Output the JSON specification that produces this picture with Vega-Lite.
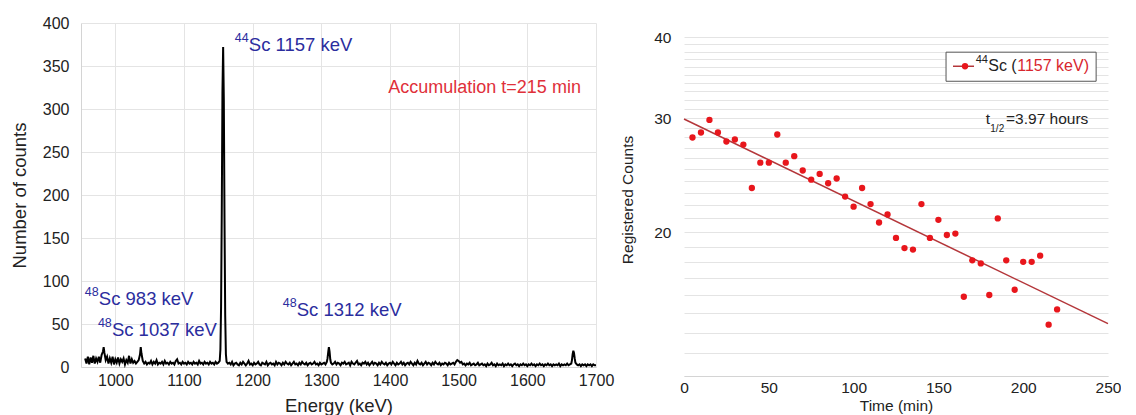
{
"$schema": "https://vega.github.io/schema/vega-lite/v6.json",
"background": "white",
"padding": {"left": 10, "top": 15, "right": 0, "bottom": 0},
"bounds": "flush",
"spacing": 88,
"config": {
  "view": {"stroke": null},
  "font": "Liberation Sans",
  "axis": {"labelFont": "Liberation Sans", "titleFont": "Liberation Sans", "titleFontWeight": "normal", "labelColor": "#222222", "titleColor": "#222222", "gridColor": "#e4e4e4", "domainColor": "#d4d4d4", "tickSize": 0, "ticks": false, "labelOverlap": false, "labelFlush": false}
},
"datasets": {
  "spectrum": [
    {"e":956,"c":10},{"e":958,"c":4},{"e":960,"c":12},{"e":962,"c":3},{"e":964,"c":11},{"e":966,"c":5},{"e":968,"c":13},{"e":970,"c":4},{"e":972,"c":10},{"e":974,"c":6},{"e":976,"c":12},{"e":978,"c":5},{"e":980,"c":14},{"e":982,"c":18},{"e":983,"c":23},{"e":984,"c":17},{"e":986,"c":8},{"e":988,"c":12},{"e":990,"c":4},{"e":992,"c":10},{"e":994,"c":5},{"e":996,"c":12},{"e":998,"c":3},{"e":1000,"c":9},{"e":1002,"c":5},{"e":1004,"c":11},{"e":1006,"c":4},{"e":1008,"c":9},{"e":1010,"c":6},{"e":1012,"c":10},{"e":1014,"c":3},{"e":1016,"c":8},{"e":1018,"c":5},{"e":1020,"c":13},{"e":1022,"c":4},{"e":1024,"c":9},{"e":1026,"c":5},{"e":1028,"c":7},{"e":1030,"c":4},{"e":1032,"c":6},{"e":1034,"c":8},{"e":1036,"c":15},{"e":1037,"c":23},{"e":1038,"c":16},{"e":1040,"c":7},{"e":1042,"c":4},{"e":1044,"c":6},{"e":1046,"c":3},{"e":1048,"c":5},{"e":1050,"c":4},{"e":1052,"c":7},{"e":1054,"c":3},{"e":1056,"c":6},{"e":1058,"c":4},{"e":1060,"c":8},{"e":1062,"c":3},{"e":1064,"c":5},{"e":1066,"c":4},{"e":1068,"c":6},{"e":1070,"c":3},{"e":1072,"c":7},{"e":1074,"c":4},{"e":1076,"c":5},{"e":1078,"c":3},{"e":1080,"c":6},{"e":1082,"c":4},{"e":1084,"c":5},{"e":1086,"c":3},{"e":1088,"c":7},{"e":1090,"c":9},{"e":1092,"c":4},{"e":1094,"c":5},{"e":1096,"c":3},{"e":1098,"c":6},{"e":1100,"c":4},{"e":1102,"c":5},{"e":1104,"c":3},{"e":1106,"c":6},{"e":1108,"c":4},{"e":1110,"c":5},{"e":1112,"c":3},{"e":1114,"c":6},{"e":1116,"c":4},{"e":1118,"c":5},{"e":1120,"c":3},{"e":1122,"c":7},{"e":1124,"c":4},{"e":1126,"c":5},{"e":1128,"c":3},{"e":1130,"c":6},{"e":1132,"c":4},{"e":1134,"c":5},{"e":1136,"c":3},{"e":1138,"c":6},{"e":1140,"c":4},{"e":1142,"c":5},{"e":1144,"c":3},{"e":1146,"c":6},{"e":1148,"c":4},{"e":1150,"c":5},{"e":1152,"c":7},{"e":1153,"c":20},{"e":1154,"c":70},{"e":1155,"c":180},{"e":1156,"c":320},{"e":1157,"c":372},{"e":1158,"c":310},{"e":1159,"c":170},{"e":1160,"c":60},{"e":1161,"c":15},{"e":1162,"c":6},{"e":1164,"c":4},
    {"e":1166,"c":5},{"e":1168,"c":3},{"e":1170,"c":6},{"e":1172,"c":2},{"e":1174,"c":4},{"e":1176,"c":5},{"e":1178,"c":3},{"e":1180,"c":2},{"e":1182,"c":5},{"e":1184,"c":3},{"e":1186,"c":6},{"e":1188,"c":4},{"e":1190,"c":2},{"e":1192,"c":4},{"e":1194,"c":7},{"e":1196,"c":3},{"e":1198,"c":4},{"e":1200,"c":2},{"e":1202,"c":5},{"e":1204,"c":3},{"e":1206,"c":4},{"e":1208,"c":6},{"e":1210,"c":3},{"e":1212,"c":2},{"e":1214,"c":5},{"e":1216,"c":4},{"e":1218,"c":3},{"e":1220,"c":6},{"e":1222,"c":2},{"e":1224,"c":4},{"e":1226,"c":5},{"e":1228,"c":3},{"e":1230,"c":4},{"e":1232,"c":2},{"e":1234,"c":6},{"e":1236,"c":3},{"e":1238,"c":5},{"e":1240,"c":4},{"e":1242,"c":2},{"e":1244,"c":5},{"e":1246,"c":3},{"e":1248,"c":6},{"e":1250,"c":4},{"e":1252,"c":3},{"e":1254,"c":5},{"e":1256,"c":2},{"e":1258,"c":4},{"e":1260,"c":6},{"e":1262,"c":3},{"e":1264,"c":4},{"e":1266,"c":2},{"e":1268,"c":5},{"e":1270,"c":3},{"e":1272,"c":6},{"e":1274,"c":4},{"e":1276,"c":3},{"e":1278,"c":5},{"e":1280,"c":2},{"e":1282,"c":4},{"e":1284,"c":5},{"e":1286,"c":3},{"e":1288,"c":4},{"e":1290,"c":6},{"e":1292,"c":3},{"e":1294,"c":4},{"e":1296,"c":2},{"e":1298,"c":5},{"e":1300,"c":3},{"e":1302,"c":4},{"e":1304,"c":5},{"e":1306,"c":3},{"e":1308,"c":6},{"e":1309,"c":10},{"e":1310,"c":17},{"e":1311,"c":23},{"e":1312,"c":18},{"e":1313,"c":9},{"e":1314,"c":5},{"e":1316,"c":3},
    {"e":1318,"c":4},{"e":1320,"c":6},{"e":1322,"c":3},{"e":1324,"c":5},{"e":1326,"c":4},{"e":1328,"c":2},{"e":1330,"c":5},{"e":1332,"c":4},{"e":1334,"c":6},{"e":1336,"c":3},{"e":1338,"c":4},{"e":1340,"c":5},{"e":1342,"c":2},{"e":1344,"c":6},{"e":1346,"c":4},{"e":1348,"c":3},{"e":1350,"c":5},{"e":1352,"c":7},{"e":1354,"c":3},{"e":1356,"c":4},{"e":1358,"c":2},{"e":1360,"c":5},{"e":1362,"c":4},{"e":1364,"c":6},{"e":1366,"c":3},{"e":1368,"c":5},{"e":1370,"c":2},{"e":1372,"c":4},{"e":1374,"c":6},{"e":1376,"c":3},{"e":1378,"c":5},{"e":1380,"c":4},{"e":1382,"c":2},{"e":1384,"c":5},{"e":1386,"c":3},{"e":1388,"c":6},{"e":1390,"c":4},{"e":1392,"c":3},{"e":1394,"c":5},{"e":1396,"c":2},{"e":1398,"c":4},{"e":1400,"c":5},{"e":1402,"c":3},{"e":1404,"c":6},{"e":1406,"c":4},{"e":1408,"c":2},{"e":1410,"c":5},{"e":1412,"c":3},{"e":1414,"c":4},{"e":1416,"c":6},{"e":1418,"c":3},{"e":1420,"c":5},{"e":1422,"c":2},{"e":1424,"c":4},{"e":1426,"c":5},{"e":1428,"c":3},{"e":1430,"c":6},{"e":1432,"c":4},{"e":1434,"c":2},{"e":1436,"c":5},{"e":1438,"c":3},{"e":1440,"c":7},{"e":1442,"c":4},{"e":1444,"c":3},{"e":1446,"c":5},{"e":1448,"c":2},{"e":1450,"c":4},{"e":1452,"c":6},{"e":1454,"c":3},{"e":1456,"c":5},{"e":1458,"c":4},{"e":1460,"c":2},{"e":1462,"c":5},{"e":1464,"c":3},{"e":1466,"c":6},{"e":1468,"c":4},{"e":1470,"c":3},{"e":1472,"c":5},{"e":1474,"c":2},{"e":1476,"c":4},{"e":1478,"c":3},{"e":1480,"c":5},{"e":1482,"c":4},{"e":1484,"c":2},{"e":1486,"c":5},{"e":1488,"c":3},{"e":1490,"c":4},{"e":1492,"c":5},{"e":1494,"c":3},{"e":1496,"c":6},{"e":1498,"c":8},{"e":1500,"c":7},{"e":1502,"c":5},{"e":1504,"c":6},{"e":1506,"c":3},{"e":1508,"c":4},{"e":1510,"c":2},{"e":1512,"c":4},{"e":1514,"c":3},{"e":1516,"c":5},{"e":1518,"c":2},{"e":1520,"c":3},{"e":1522,"c":4},{"e":1524,"c":2},{"e":1526,"c":3},{"e":1528,"c":5},{"e":1530,"c":2},{"e":1532,"c":3},{"e":1534,"c":4},{"e":1536,"c":2},{"e":1538,"c":3},{"e":1540,"c":1},{"e":1542,"c":4},{"e":1544,"c":2},{"e":1546,"c":3},{"e":1548,"c":5},{"e":1550,"c":2},{"e":1552,"c":3},{"e":1554,"c":1},{"e":1556,"c":4},{"e":1558,"c":2},{"e":1560,"c":3},{"e":1562,"c":2},{"e":1564,"c":4},{"e":1566,"c":1},{"e":1568,"c":3},{"e":1570,"c":2},{"e":1572,"c":4},{"e":1574,"c":2},{"e":1576,"c":3},{"e":1578,"c":1},{"e":1580,"c":3},{"e":1582,"c":4},{"e":1584,"c":2},{"e":1586,"c":3},{"e":1588,"c":1},{"e":1590,"c":3},{"e":1592,"c":2},{"e":1594,"c":4},{"e":1596,"c":2},{"e":1598,"c":3},{"e":1600,"c":1},{"e":1602,"c":3},{"e":1604,"c":2},{"e":1606,"c":4},{"e":1608,"c":2},{"e":1610,"c":3},{"e":1612,"c":1},{"e":1614,"c":3},{"e":1616,"c":2},{"e":1618,"c":4},{"e":1620,"c":2},{"e":1622,"c":3},{"e":1624,"c":1},{"e":1626,"c":3},{"e":1628,"c":2},{"e":1630,"c":4},{"e":1632,"c":2},{"e":1634,"c":3},{"e":1636,"c":1},{"e":1638,"c":3},{"e":1640,"c":2},{"e":1642,"c":3},{"e":1644,"c":2},{"e":1646,"c":4},{"e":1648,"c":1},{"e":1650,"c":3},{"e":1652,"c":2},{"e":1654,"c":3},{"e":1656,"c":2},{"e":1658,"c":4},{"e":1660,"c":2},{"e":1662,"c":3},{"e":1664,"c":4},{"e":1665,"c":8},{"e":1666,"c":15},{"e":1667,"c":19},{"e":1668,"c":16},{"e":1669,"c":10},{"e":1670,"c":5},{"e":1672,"c":3},{"e":1674,"c":2},{"e":1676,"c":3},{"e":1678,"c":1},{"e":1680,"c":3},{"e":1682,"c":2},{"e":1684,"c":3},{"e":1686,"c":1},{"e":1688,"c":3},{"e":1690,"c":2},{"e":1692,"c":3},{"e":1694,"c":1},{"e":1696,"c":3},{"e":1698,"c":2},{"e":1700,"c":2}
  ],
  "peakNotes": [
    {"e":1174,"c":375,"sup":"44","rest":"Sc 1157 keV"},
    {"e":955.6,"c":78.5,"sup":"48","rest":"Sc 983 keV"},
    {"e":974.6,"c":42.5,"sup":"48","rest":"Sc 1037 keV"},
    {"e":1243.7,"c":65.7,"sup":"48","rest":"Sc 1312 keV"}
  ],
  "accNote": [{"e":1397.5,"c":324,"label":"Accumulation t=215 min"}],
  "decay": [
    {"t":5,"v":28.0},{"t":10,"v":28.5},{"t":15,"v":29.8},{"t":20,"v":28.5},{"t":25,"v":27.6},{"t":30,"v":27.8},{"t":35,"v":27.3},{"t":40,"v":23.4},{"t":45,"v":25.6},{"t":50,"v":25.6},{"t":55,"v":28.3},{"t":60,"v":25.6},{"t":65,"v":26.2},{"t":70,"v":24.9},{"t":75,"v":24.1},{"t":80,"v":24.6},{"t":85,"v":23.8},{"t":90,"v":24.2},{"t":95,"v":22.7},{"t":100,"v":21.9},{"t":105,"v":23.4},{"t":110,"v":22.1},{"t":115,"v":20.7},{"t":120,"v":21.3},{"t":125,"v":19.6},{"t":130,"v":18.9},{"t":135,"v":18.8},{"t":140,"v":22.1},{"t":145,"v":19.6},{"t":150,"v":20.9},{"t":155,"v":19.8},{"t":160,"v":19.9},{"t":165,"v":15.9},{"t":170,"v":18.1},{"t":175,"v":17.9},{"t":180,"v":16.0},{"t":185,"v":21.0},{"t":190,"v":18.1},{"t":195,"v":16.3},{"t":200,"v":18.0},{"t":205,"v":18.0},{"t":210,"v":18.4},{"t":215,"v":14.4},{"t":220,"v":15.2}
  ],
  "fit": [{"t":0,"v":29.9},{"t":250,"v":14.45}],
  "vgrid": [{"t":0},{"t":50},{"t":100},{"t":150},{"t":200},{"t":250}],
  "legendBox": [{"t":154.5,"t2":243,"v":37.91,"v2":34.19}],
  "legendLine": [{"t":158.6,"t2":171,"v":36.06}],
  "legendDot": [{"t":165.7,"v":36.06}],
  "legendSup": [{"t":172,"v":36.06,"label":"44"}],
  "legendBlack": [{"t":172,"v":36.06,"label":"Sc ("}],
  "legendRed": [{"t":196.5,"v":36.06,"label":"1157 keV)"}],
  "halfLife": [
    {"t":177.9,"v":29.9,"label":"t"},
    {"t":189.9,"v":29.9,"label":"=3.97 hours"}
  ],
  "halfLifeSub": [{"t":180.6,"v":28.9,"label":"1/2"}]
},
"hconcat": [
  {
    "width": 515,
    "height": 344,
    "encoding": {
      "x": {"field": "e", "type": "quantitative", "scale": {"domain": [950, 1700], "nice": false, "zero": false},
            "axis": {"values": [1000,1100,1200,1300,1400,1500,1600,1700], "format": "d", "title": "Energy (keV)", "labelFontSize": 16, "titleFontSize": 18.5, "labelPadding": 5, "titlePadding": 8, "grid": true}},
      "y": {"field": "c", "type": "quantitative", "scale": {"domain": [0, 400], "nice": false},
            "axis": {"values": [0,50,100,150,200,250,300,350,400], "title": "Number of counts", "labelFontSize": 16, "titleFontSize": 18.5, "labelPadding": 12, "titlePadding": 13, "grid": true}}
    },
    "layer": [
      {
        "data": {"name": "spectrum"},
        "mark": {"type": "line", "color": "#000000", "strokeWidth": 2, "interpolate": "linear"}
      },
      {
        "data": {"name": "peakNotes"},
        "mark": {"type": "text", "align": "left", "baseline": "middle", "fontSize": 12.5, "dy": -7, "font": "Liberation Sans", "color": "#2b2d9e"},
        "encoding": {"text": {"field": "sup"}}
      },
      {
        "data": {"name": "peakNotes"},
        "mark": {"type": "text", "align": "left", "baseline": "middle", "fontSize": 18.5, "dx": 14, "font": "Liberation Sans", "color": "#2b2d9e"},
        "encoding": {"text": {"field": "rest"}}
      },
      {
        "data": {"name": "accNote"},
        "mark": {"type": "text", "align": "left", "baseline": "middle", "fontSize": 18, "font": "Liberation Sans", "color": "#e0303a"},
        "encoding": {"text": {"field": "label"}}
      }
    ]
  },
  {
    "width": 424,
    "height": 353,
    "encoding": {
      "x": {"field": "t", "type": "quantitative", "scale": {"domain": [0, 250], "nice": false, "zero": false},
            "axis": {"values": [0,50,100,150,200,250], "title": "Time (min)", "labelFontSize": 15.5, "titleFontSize": 15.5, "labelPadding": 4, "titlePadding": 3, "grid": false}},
      "y": {"field": "v", "type": "quantitative", "scale": {"type": "log", "domain": [12, 42.05], "nice": false, "zero": false},
            "axis": {"values": [12,13,14,15,16,17,18,19,20,21,22,23,24,25,26,27,28,29,30,31,32,33,34,35,36,37,38,39,40], "labelExpr": "(datum.value == 20 || datum.value == 30 || datum.value == 40) ? datum.value : ''", "title": "Registered Counts", "labelFontSize": 15.5, "titleFontSize": 15.5, "labelPadding": 13, "titlePadding": 18, "grid": true, "domain": false}}
    },
    "layer": [
      {
        "data": {"name": "vgrid"},
        "mark": {"type": "rule", "color": "#e4e4e4", "strokeWidth": 1},
        "encoding": {"y": {"datum": 12}, "y2": {"datum": 40}}
      },
      {
        "data": {"name": "fit"},
        "mark": {"type": "line", "color": "#b4363a", "strokeWidth": 1.5}
      },
      {
        "data": {"name": "decay"},
        "mark": {"type": "circle", "color": "#e8161c", "opacity": 1, "size": 40}
      },
      {
        "data": {"name": "legendBox"},
        "mark": {"type": "rect", "fill": "#ffffff", "stroke": "#555555", "strokeWidth": 1},
        "encoding": {"x2": {"field": "t2"}, "y2": {"field": "v2"}}
      },
      {
        "data": {"name": "legendLine"},
        "mark": {"type": "rule", "color": "#b4363a", "strokeWidth": 1.5},
        "encoding": {"x2": {"field": "t2"}}
      },
      {
        "data": {"name": "legendDot"},
        "mark": {"type": "circle", "color": "#e8161c", "opacity": 1, "size": 40}
      },
      {
        "data": {"name": "legendSup"},
        "mark": {"type": "text", "align": "left", "baseline": "middle", "fontSize": 11, "dy": -6, "font": "Liberation Sans", "color": "#222222"},
        "encoding": {"text": {"field": "label"}}
      },
      {
        "data": {"name": "legendBlack"},
        "mark": {"type": "text", "align": "left", "baseline": "middle", "fontSize": 16, "dx": 12.5, "font": "Liberation Sans", "color": "#222222"},
        "encoding": {"text": {"field": "label"}}
      },
      {
        "data": {"name": "legendRed"},
        "mark": {"type": "text", "align": "left", "baseline": "middle", "fontSize": 16, "font": "Liberation Sans", "color": "#d8262e"},
        "encoding": {"text": {"field": "label"}}
      },
      {
        "data": {"name": "halfLife"},
        "mark": {"type": "text", "align": "left", "baseline": "middle", "fontSize": 15.5, "font": "Liberation Sans", "color": "#222222"},
        "encoding": {"text": {"field": "label"}}
      },
      {
        "data": {"name": "halfLifeSub"},
        "mark": {"type": "text", "align": "left", "baseline": "middle", "fontSize": 10, "font": "Liberation Sans", "color": "#222222"},
        "encoding": {"text": {"field": "label"}}
      }
    ]
  }
]
}
